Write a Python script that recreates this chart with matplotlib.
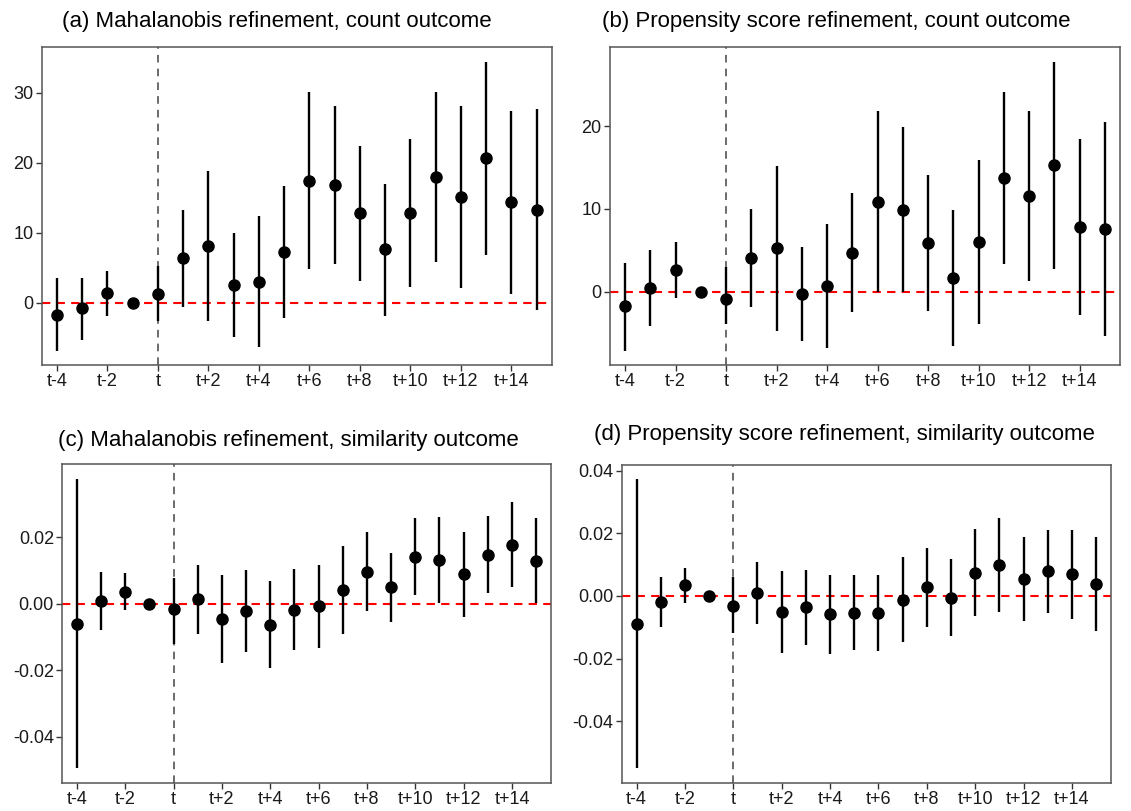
import matplotlib
matplotlib.use("Agg")
import matplotlib.pyplot as plt
import numpy as np

plt.rcParams['font.family'] = ['Liberation Sans', 'DejaVu Sans']

periods = ["t-4", "t-3", "t-2", "t-1", "t", "t+1", "t+2", "t+3", "t+4", "t+5",
           "t+6", "t+7", "t+8", "t+9", "t+10", "t+11", "t+12", "t+13", "t+14", "t+15"]
tick_labels = ["t-4", "t-2", "t", "t+2", "t+4", "t+6", "t+8", "t+10", "t+12", "t+14"]

# (a) Mahalanobis refinement, count outcome
a_est = [-1.66, -0.8, 1.37, 0.0, 1.28, 6.34, 8.1, 2.55, 3.0, 7.3,
         17.45, 16.8, 12.77, 7.66, 12.82, 17.98, 15.14, 20.62, 14.33, 13.29]
a_lo = [-6.8, -5.3, -1.8, 0.0, -2.55, -0.57, -2.55, -4.8, -6.3, -2.1,
        4.78, 5.49, 3.17, -1.8, 2.22, 5.82, 2.18, 6.81, 1.28, -1.04]
a_hi = [3.55, 3.55, 4.6, 0.0, 5.2, 13.3, 18.8, 9.9, 12.35, 16.65,
        30.1, 28.05, 22.37, 16.98, 23.37, 30.08, 28.05, 34.4, 27.44, 27.6]

# (b) Propensity score refinement, count outcome
b_est = [-1.76, 0.48, 2.6, 0.0, -0.92, 4.08, 5.28, -0.28, 0.72, 4.68,
         10.8, 9.84, 5.92, 1.64, 6.0, 13.72, 11.56, 15.28, 7.8, 7.56]
b_lo = [-7.08, -4.16, -0.76, 0.0, -3.9, -1.88, -4.68, -5.88, -6.72, -2.48,
        0.0, 0.0, -2.32, -6.56, -3.92, 3.32, 1.28, 2.8, -2.8, -5.32]
b_hi = [3.52, 5.04, 5.96, 0.0, 3.0, 10.04, 15.2, 5.44, 8.16, 11.88,
        21.76, 19.84, 14.12, 9.84, 15.92, 24.08, 21.8, 27.76, 18.44, 20.48]

# (c) Mahalanobis refinement, similarity outcome
c_est = [-0.0060, 0.0009, 0.0036, 0.0, -0.0017, 0.0013, -0.0045, -0.0023, -0.0063, -0.0019,
         -0.0008, 0.0041, 0.0096, 0.0049, 0.0141, 0.0132, 0.0088, 0.0147, 0.0178, 0.0130]
c_lo = [-0.0495, -0.0079, -0.0020, 0.0, -0.0120, -0.0090, -0.0177, -0.0145, -0.0193, -0.0140,
        -0.0132, -0.0090, -0.0022, -0.0056, 0.0026, 0.0002, -0.0039, 0.0031, 0.0050, 0.0002]
c_hi = [0.0376, 0.0096, 0.0092, 0.0, 0.0078, 0.0116, 0.0087, 0.0100, 0.0069, 0.0103,
        0.0116, 0.0173, 0.0217, 0.0153, 0.0257, 0.0262, 0.0217, 0.0264, 0.0307, 0.0259]

# (d) Propensity score refinement, similarity outcome
d_est = [-0.0089, -0.0020, 0.0034, 0.0, -0.0031, 0.0010, -0.0051, -0.0036, -0.0059, -0.0053,
         -0.0054, -0.0012, 0.0028, -0.0005, 0.0074, 0.0100, 0.0054, 0.0079, 0.0070, 0.0038]
d_lo = [-0.0550, -0.0100, -0.0023, 0.0, -0.0119, -0.0089, -0.0181, -0.0156, -0.0185, -0.0172,
        -0.0176, -0.0146, -0.0099, -0.0129, -0.0064, -0.0051, -0.0081, -0.0055, -0.0073, -0.0113]
d_hi = [0.0373, 0.0062, 0.0089, 0.0, 0.0062, 0.0108, 0.0080, 0.0083, 0.0066, 0.0066,
        0.0066, 0.0123, 0.0154, 0.0118, 0.0214, 0.0250, 0.0188, 0.0211, 0.0210, 0.0188]

titles = ["(a) Mahalanobis refinement, count outcome",
          "(b) Propensity score refinement, count outcome",
          "(c) Mahalanobis refinement, similarity outcome",
          "(d) Propensity score refinement, similarity outcome"]

W, H = 1131, 811
fig = plt.figure(figsize=(W / 100, H / 100), dpi=100)
fig.patch.set_facecolor("white")

# panel boxes in pixels: left, right, top, bottom
boxes = [(41.7, 551.7, 47.3, 365.0),
         (610.0, 1120.0, 47.3, 365.0),
         (62.3, 550.7, 464.3, 782.7),
         (622.0, 1110.7, 464.7, 782.7)]
title_pos = [(62, 22), (602, 22), (58, 440), (594, 434)]
yticks = [[0, 10, 20, 30], [0, 10, 20],
          [-0.04, -0.02, 0.00, 0.02], [-0.04, -0.02, 0.00, 0.02, 0.04]]
ytick_fmt = [lambda v: f"{v:g}", lambda v: f"{v:g}",
             lambda v: f"{v:.2f}", lambda v: f"{v:.2f}"]
data = [(a_est, a_lo, a_hi), (b_est, b_lo, b_hi),
        (c_est, c_lo, c_hi), (d_est, d_lo, d_hi)]

x = np.arange(len(periods))
t_idx = periods.index("t")
tick_idx = [periods.index(s) for s in tick_labels]

for i, (box, (est, lo, hi)) in enumerate(zip(boxes, data)):
    l, r, t, b = box
    ax = fig.add_axes([l / W, 1 - b / H, (r - l) / W, (b - t) / H])
    est = np.array(est); lo = np.array(lo); hi = np.array(hi)
    ax.vlines(x, lo, hi, color="black", lw=1.7, zorder=3)
    ax.plot(x, est, "o", color="black", ms=8, zorder=4)
    ax.axhline(0, color="red", lw=1.5, ls=(0, (4, 3)), zorder=2)
    ax.axvline(t_idx, color="#444444", lw=1.1, ls=(0, (5, 4)), zorder=1)
    rng = hi.max() - lo.min()
    ax.set_ylim(lo.min() - 0.05 * rng, hi.max() + 0.05 * rng)
    ax.set_xlim(-0.6, len(periods) - 1 + 0.6)
    ax.set_xticks(tick_idx)
    ax.set_xticklabels(tick_labels)
    ax.set_yticks(yticks[i])
    ax.set_yticklabels([ytick_fmt[i](v) for v in yticks[i]])
    ax.tick_params(axis="both", labelsize=13, color="#333333", length=4,
                   width=1.0, labelcolor="#1a1a1a", pad=2)
    for s in ax.spines.values():
        s.set_color("#555555")
        s.set_linewidth(1.1)
    fig.text(title_pos[i][0] / W, 1 - title_pos[i][1] / H, titles[i],
             ha="left", va="center", fontsize=16, color="black")

fig.savefig("out.png", dpi=100, facecolor="white")
